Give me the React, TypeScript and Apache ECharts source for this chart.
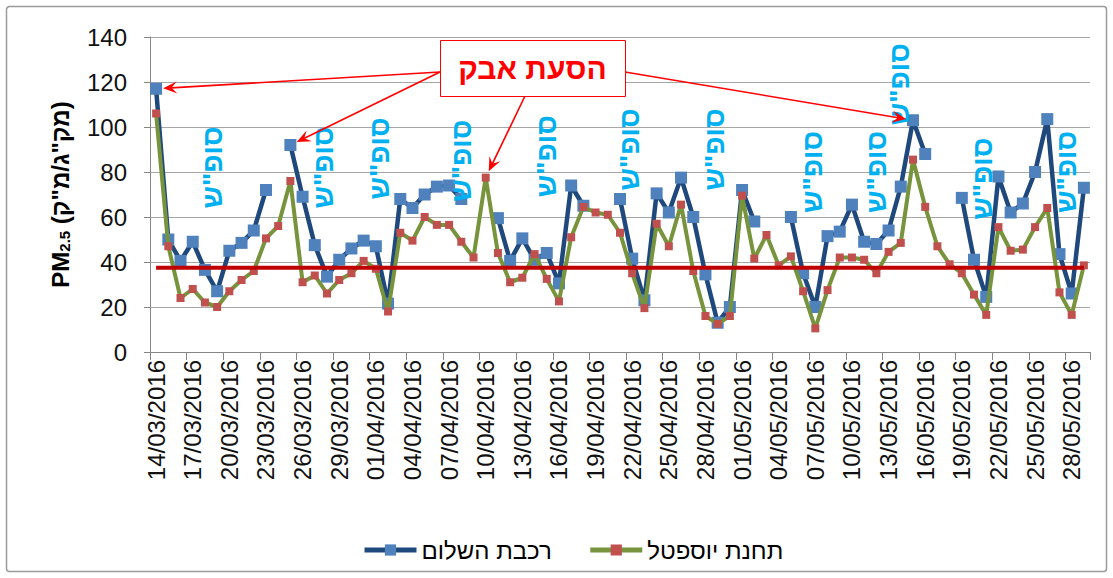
import React, { useEffect, useRef } from "react";
import * as echarts from "echarts";

// ---------- data ----------
const START_DATE = Date.UTC(2016, 2, 14);
const NUM_DAYS = 77;
const categories: string[] = Array.from({ length: NUM_DAYS }, (_, i) => {
  const d = new Date(START_DATE + i * 86400000);
  const dd = String(d.getUTCDate()).padStart(2, "0");
  const mm = String(d.getUTCMonth() + 1).padStart(2, "0");
  return `${dd}/${mm}/${d.getUTCFullYear()}`;
});

const seriesNames = ["רכבת השלום", "תחנת יוספטל"];

// רכבת השלום
const shalomValues: (number | null)[] = [
  117, 50, 40.5, 49, 36.5, 27, 45, 48.5, 54, 72,
  null, 92, 69, 47.5, 33.5, 41, 46, 49.5, 47, 21.5,
  68, 64, 70, 73.5, 74, 68, null, null, 59.5, 40.5,
  50.5, 41, 44, 30.5, 74, 65, null, null, 68, 41.5,
  23, 70.5, 62, 77.5, 60, 34.5, 13, 20, 72, 58,
  null, null, 60, 35, 20, 51.5, 53.5, 65.5, 49, 48,
  54, 73.5, 103, 88, null, null, 68.5, 41, 24.5, 78,
  62, 66, 80, 103.5, 43.5, 26, 73,
];

// תחנת יוספטל
const yoseftalValues: (number | null)[] = [
  106, 47, 24, 28, 22, 20, 27, 32, 36, 50.5,
  56, 76, 31, 34, 26, 32, 35, 40.5, 37, 18,
  53, 49.5, 60, 56.5, 56.5, 49, 42, 77.5, 44, 31,
  33, 43.5, 32.5, 22.5, 51, 64.5, 62, 61, 53, 35,
  19.5, 57, 47, 65.5, 36, 16, 12.5, 16, 69.5, 41.5,
  52, 38.5, 42.5, 27, 10.5, 27.5, 42, 42, 41, 35,
  44.5, 48.5, 85.5, 64.5, 47, 39, 35, 25.5, 16.5, 55.5,
  45, 45.5, 55.5, 64, 26.5, 16.5, 38.5,
];

const THRESHOLD = 37.5;
const thresholdValues = categories.map(() => THRESHOLD);

const Y_MIN = 0;
const Y_MAX = 140;
const Y_INTERVAL = 20;

// weekend annotations: [category position, value]
const weekendText = 'סופ"ש';
const weekendAnchors: [number, number][] = [
  [4.6, 82], [13.7, 82], [18.3, 86], [25, 85], [32, 87], [38.8, 90],
  [45.7, 90], [53.8, 80], [59, 80], [60.9, 119], [67.7, 77], [74.6, 80],
];

const dustText = "הסעת אבק";
// arrow targets: [series index, category index]
const dustTargets: [number, number][] = [[0, 0], [0, 11], [1, 27], [0, 62]];

const FONT = "Arial, 'Liberation Sans', 'DejaVu Sans', sans-serif";

export default function App() {
  const ref = useRef<HTMLDivElement>(null);

  useEffect(() => {
    const chart = echarts.init(ref.current!, null, { renderer: "svg" });
    const option: any = {
      animation: false,
      backgroundColor: "#ffffff",
      textStyle: { fontFamily: FONT },
      grid: {
        left: 150,
        right: 23,
        top: 37,
        bottom: 226,
        containLabel: false,
        outerBoundsMode: "none",
      },
      legend: {
        data: seriesNames,
        left: 357,
        top: 533,
        itemWidth: 52,
        itemHeight: 14,
        itemGap: 36,
        lineStyle: { width: 5 },
        textStyle: { fontSize: 24, color: "#000", fontFamily: FONT },
      },
      xAxis: {
        type: "category",
        data: categories,
        boundaryGap: true,
        axisLine: { lineStyle: { color: "#868686", width: 1 } },
        axisTick: { show: true, length: 8, interval: 2, lineStyle: { color: "#868686" } },
        axisLabel: {
          interval: 2,
          rotate: 90,
          margin: 8,
          fontSize: 24,
          color: "#111",
          fontFamily: FONT,
        },
        splitLine: { show: false },
      },
      yAxis: {
        type: "value",
        min: Y_MIN,
        max: Y_MAX,
        interval: Y_INTERVAL,
        name: '{b|PM}{s|2.5}{b| (מק"ג/מ"ק)}',
        nameLocation: "middle",
        nameRotate: 90,
        nameGap: 78,
        nameTextStyle: {
          rich: {
            b: { fontSize: 24, fontWeight: "bold", color: "#000", fontFamily: FONT },
            s: { fontSize: 15, fontWeight: "bold", color: "#000", fontFamily: FONT, verticalAlign: "bottom" },
          },
        },
        axisLine: { show: true, lineStyle: { color: "#868686", width: 1 } },
        axisTick: { show: true, length: 6, lineStyle: { color: "#868686" } },
        axisLabel: { fontSize: 24, color: "#111", margin: 23, fontFamily: FONT },
        splitLine: { lineStyle: { color: "#A6A6A6", width: 1 } },
      },
      series: [
        {
          name: seriesNames[0],
          type: "line",
          data: shalomValues,
          connectNulls: false,
          showSymbol: true,
          showAllSymbol: true,
          symbol: "rect",
          symbolSize: 12,
          lineStyle: { color: "#1F497D", width: 4.5 },
          itemStyle: { color: "#4F81BD" },
          z: 2,
        },
        {
          name: seriesNames[1],
          type: "line",
          data: yoseftalValues,
          connectNulls: false,
          showSymbol: true,
          showAllSymbol: true,
          symbol: "rect",
          symbolSize: 8,
          lineStyle: { color: "#77933C", width: 4 },
          itemStyle: { color: "#C0504D" },
          z: 3,
        },
        {
          name: "threshold",
          type: "line",
          data: thresholdValues,
          symbol: "none",
          silent: true,
          lineStyle: { color: "#C00000", width: 4 },
          z: 4,
        },
      ],
    };
    chart.setOption(option);

    const p0 = chart.convertToPixel({ gridIndex: 0 }, [0, Y_MIN]) as number[];
    const p1 = chart.convertToPixel({ gridIndex: 0 }, [NUM_DAYS - 1, Y_MAX]) as number[];
    const toPx = (idx: number, val: number) => [
      p0[0] + ((p1[0] - p0[0]) * idx) / (NUM_DAYS - 1),
      p0[1] + ((p1[1] - p0[1]) * (val - Y_MIN)) / (Y_MAX - Y_MIN),
    ];

    const graphics: any[] = [];
    graphics.push({
      type: "rect",
      shape: { x: 6.5, y: 6.5, width: 1100, height: 565, r: 3 },
      style: { fill: "none", stroke: "#9a9a9a", lineWidth: 1.5 },
      silent: true,
      z: 0,
    });

    weekendAnchors.forEach(([idx, val]) => {
      const [x, y] = toPx(idx, val);
      graphics.push({
        type: "text",
        x,
        y,
        rotation: Math.PI / 2,
        style: {
          text: weekendText,
          fill: "#00B0F0",
          font: `bold 28px ${FONT}`,
          align: "center",
          verticalAlign: "middle",
        },
        z: 10,
      });
    });

    // box
    const box = { x: 440, y: 40, w: 185, h: 56 };
    graphics.push({
      type: "rect",
      shape: { x: box.x + 0.5, y: box.y + 0.5, width: box.w, height: box.h },
      style: { fill: "#ffffff", stroke: "#FF0000", lineWidth: 1 },
      z: 20,
    });
    graphics.push({
      type: "text",
      x: box.x + box.w / 2,
      y: box.y + box.h / 2,
      style: {
        text: dustText,
        fill: "#FF0000",
        font: `bold 30px ${FONT}`,
        align: "center",
        verticalAlign: "middle",
      },
      z: 21,
    });

    const origins: [number, number][] = [
      [box.x, 72],
      [box.x, 72],
      [525, box.y + box.h],
      [box.x + box.w, 72],
    ];
    dustTargets.forEach(([si, ci], k) => {
      const val = (si === 0 ? shalomValues : yoseftalValues)[ci] as number;
      const [tx, ty] = toPx(ci, val);
      const [ox, oy] = origins[k];
      const dx = tx - ox;
      const dy = ty - oy;
      const len = Math.sqrt(dx * dx + dy * dy);
      const ux = dx / len;
      const uy = dy / len;
      const tipX = tx - ux * 7;
      const tipY = ty - uy * 7;
      const nx = -uy;
      const ny = ux;
      const L = 14;
      const W = 6;
      graphics.push({
        type: "line",
        shape: { x1: ox, y1: oy, x2: tipX - ux * 8, y2: tipY - uy * 8 },
        style: { stroke: "#FF0000", lineWidth: 1.6 },
        z: 19,
      });
      graphics.push({
        type: "polygon",
        shape: {
          points: [
            [tipX, tipY],
            [tipX - ux * L + nx * W, tipY - uy * L + ny * W],
            [tipX - ux * L * 0.6, tipY - uy * L * 0.6],
            [tipX - ux * L - nx * W, tipY - uy * L - ny * W],
          ],
        },
        style: { fill: "#FF0000" },
        z: 19,
      });
    });

    chart.setOption({ graphic: graphics });
    return () => chart.dispose();
  }, []);

  return (
    <div
      ref={ref}
      style={{ position: "absolute", left: 0, top: 0, width: 1113, height: 578 }}
    />
  );
}
